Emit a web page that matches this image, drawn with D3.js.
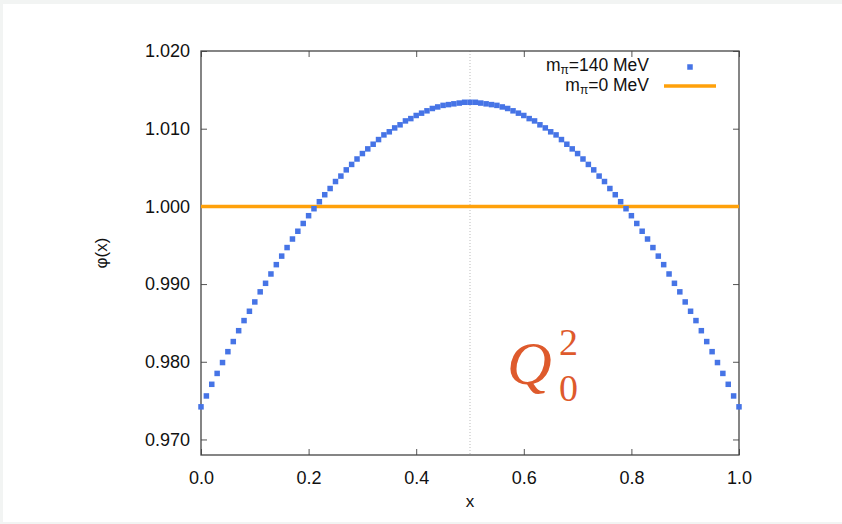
<!DOCTYPE html>
<html>
<head>
<meta charset="utf-8">
<script src="https://cdn.jsdelivr.net/npm/d3@7"></script>
<style>
  html, body { margin: 0; padding: 0; background: #ffffff; }
  svg { display: block; }
</style>
</head>
<body>
<svg id="chart" width="842" height="524"></svg>
<script>
// φ(x) for m_π = 140 MeV, sampled at x = 0.00, 0.01, ..., 1.00
const phi140 = [
  0.9742, 0.9756, 0.9771, 0.9785, 0.9799, 0.9813, 0.9826, 0.9840, 0.9853, 0.9865,
  0.9877, 0.9890, 0.9901, 0.9913, 0.9925, 0.9936, 0.9947, 0.9958, 0.9968, 0.9978,
  0.9988, 0.9997, 1.0006, 1.0015, 1.0023, 1.0032, 1.0039, 1.0047, 1.0054, 1.0061,
  1.0068, 1.0074, 1.0080, 1.0086, 1.0092, 1.0096, 1.0101, 1.0105, 1.0110, 1.0113,
  1.0117, 1.0120, 1.0123, 1.0126, 1.0128, 1.0130, 1.0131, 1.0132, 1.0133, 1.0134,
  1.0134,
  1.0134, 1.0133, 1.0132, 1.0131, 1.0130, 1.0128, 1.0126, 1.0123, 1.0120, 1.0117,
  1.0113, 1.0110, 1.0105, 1.0101, 1.0096, 1.0092, 1.0086, 1.0080, 1.0074, 1.0068,
  1.0061, 1.0054, 1.0047, 1.0039, 1.0032, 1.0023, 1.0015, 1.0006, 0.9997, 0.9988,
  0.9978, 0.9968, 0.9958, 0.9947, 0.9936, 0.9925, 0.9913, 0.9901, 0.9890, 0.9877,
  0.9865, 0.9853, 0.9840, 0.9826, 0.9813, 0.9799, 0.9785, 0.9771, 0.9756, 0.9742
];
const xStep = 0.01;

// chiral limit: flat distribution
const phiChiral = [1.0, 1.0];
const phiChiralX = [0.0, 1.0];

const xTicks = [0.0, 0.2, 0.4, 0.6, 0.8, 1.0];
const yTicks = [0.970, 0.980, 0.990, 1.000, 1.010, 1.020];

const legendLabels = ["=140 MeV", "=0 MeV"];

const svg = d3.select("#chart");
const W = 842, H = 524;

// page frame
svg.append("rect").attr("x", 0).attr("y", 0).attr("width", W).attr("height", H).attr("fill", "#f2f4f3");
svg.append("rect").attr("x", 3).attr("y", 4).attr("width", W - 3).attr("height", H - 6).attr("fill", "#ffffff");

const pLeft = 201, pRight = 739, pTop = 51, pBottom = 455;

const x = d3.scaleLinear().domain([0, 1]).range([pLeft, pRight]);
const y = d3.scaleLinear().domain([0.968, 1.020]).range([pBottom, pTop]);

const font = "'Liberation Sans', Arial, Helvetica, sans-serif";
const axisColor = "#555";

// dotted centre guide
svg.append("line")
  .attr("x1", x(0.5)).attr("x2", x(0.5))
  .attr("y1", pTop).attr("y2", pBottom)
  .attr("stroke", "#bbb").attr("stroke-width", 1)
  .attr("stroke-dasharray", "1,2");

// axes with inward ticks, mirrored on top and right
const tickLen = 6;
const axB = d3.axisBottom(x).tickValues(xTicks).tickSize(-tickLen).tickPadding(16).tickFormat(d3.format(".1f"));
const axT = d3.axisTop(x).tickValues(xTicks).tickSize(-tickLen).tickFormat("");
const axL = d3.axisLeft(y).tickValues(yTicks).tickSize(-tickLen).tickPadding(11).tickFormat(d3.format(".3f"));
const axR = d3.axisRight(y).tickValues(yTicks).tickSize(-tickLen).tickFormat("");

function styleAxis(g) {
  g.select(".domain").remove();
  g.selectAll(".tick line").attr("stroke", axisColor).attr("stroke-width", 1);
  g.selectAll(".tick text").attr("fill", "#111").attr("font-family", font).attr("font-size", 18);
}
svg.append("g").attr("transform", `translate(0,${pBottom})`).call(axB).call(styleAxis);
svg.append("g").attr("transform", `translate(0,${pTop})`).call(axT).call(styleAxis);
svg.append("g").attr("transform", `translate(${pLeft},0)`).call(axL).call(styleAxis);
svg.append("g").attr("transform", `translate(${pRight},0)`).call(axR).call(styleAxis);

// plot frame
svg.append("rect")
  .attr("x", pLeft).attr("y", pTop)
  .attr("width", pRight - pLeft).attr("height", pBottom - pTop)
  .attr("fill", "none").attr("stroke", "#444").attr("stroke-width", 1.3);

// m_π = 0 line
svg.append("path")
  .datum(phiChiralX.map((d, i) => [d, phiChiral[i]]))
  .attr("d", d3.line().x(d => x(d[0])).y(d => y(d[1])))
  .attr("stroke", "#ffa10a").attr("stroke-width", 3.5).attr("fill", "none");

// m_π = 140 MeV points
const sq = 5.5;
svg.append("g").selectAll("rect")
  .data(phi140)
  .join("rect")
  .attr("x", (d, i) => x(i * xStep) - sq / 2)
  .attr("y", d => y(d) - sq / 2)
  .attr("width", sq).attr("height", sq)
  .attr("fill", "#4674e6");

// axis titles
svg.append("text")
  .attr("x", (pLeft + pRight) / 2).attr("y", 507)
  .attr("text-anchor", "middle")
  .attr("font-family", font).attr("font-size", 17).attr("fill", "#111")
  .text("x");
svg.append("text")
  .attr("transform", `translate(107,${(pTop + pBottom) / 2}) rotate(-90)`)
  .attr("text-anchor", "middle")
  .attr("font-family", font).attr("font-size", 17).attr("fill", "#111")
  .text("φ(x)");

// legend
const legendRight = 649;
const rows = [71, 91];
rows.forEach((by, i) => {
  const t = svg.append("text")
    .attr("x", legendRight).attr("y", by)
    .attr("text-anchor", "end")
    .attr("font-family", font).attr("font-size", 17.5).attr("fill", "#111");
  t.append("tspan").text("m");
  t.append("tspan").attr("font-size", 12).attr("dy", 3).text("π");
  t.append("tspan").attr("dy", -3).text(legendLabels[i]);
});
svg.append("rect")
  .attr("x", 690 - sq / 2).attr("y", 67 - sq / 2)
  .attr("width", sq).attr("height", sq)
  .attr("fill", "#4674e6");
svg.append("line")
  .attr("x1", 664).attr("x2", 716)
  .attr("y1", 86).attr("y2", 86)
  .attr("stroke", "#ffa10a").attr("stroke-width", 3.5);

// Q_0^2 annotation
const qColor = "#de5a2c";
const qg = svg.append("g").attr("fill", qColor).attr("font-family", "'Liberation Serif', 'DejaVu Serif', serif");
qg.append("text").attr("x", 507).attr("y", 384)
  .attr("font-size", 62).attr("font-style", "italic").text("Q");
qg.append("text").attr("x", 559).attr("y", 355)
  .attr("font-size", 38).text("2");
qg.append("text").attr("x", 559).attr("y", 401)
  .attr("font-size", 38).text("0");
</script>
</body>
</html>
